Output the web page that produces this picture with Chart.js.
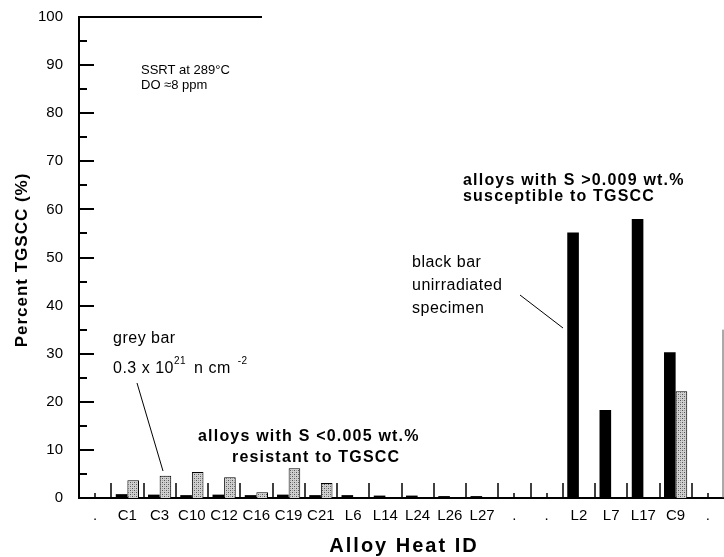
<!DOCTYPE html>
<html>
<head>
<meta charset="utf-8">
<script src="https://cdn.jsdelivr.net/npm/chart.js@4"></script>
<style>
  html, body { margin: 0; padding: 0; background: #fff; }
  #wrap { width: 724px; height: 557px; }
</style>
</head>
<body>
<div id="wrap"><canvas id="myChart" width="724" height="557"></canvas></div>
<script>
// alloy heats along the x axis ('.' = empty slot)
const categories = ['.', 'C1', 'C3', 'C10', 'C12', 'C16', 'C19', 'C21', 'L6', 'L14', 'L24', 'L26', 'L27',
  '.', '.', 'L2', 'L7', 'L17', 'C9', '.'];
// percent TGSCC, unirradiated specimens (black bars)
const unirradiated = [null, 0.8, 0.7, 0.6, 0.7, 0.6, 0.7, 0.6, 0.6, 0.5, 0.5, 0.4, 0.4,
  null, null, 55.2, 18.3, 58.0, 30.3, null];
// percent TGSCC, irradiated to 0.3 x 10^21 n/cm2 (grey bars)
const irradiated = [null, 3.7, 4.6, 5.4, 4.3, 1.2, 6.2, 3.1, null, null, null, null, null,
  null, null, null, null, null, 22.2, null];
const yTicks = [0, 10, 20, 30, 40, 50, 60, 70, 80, 90, 100];

const FONT = '"Liberation Sans", Arial, Helvetica, sans-serif';

// stippled grey fill
function stipple() {
  const c = document.createElement('canvas');
  c.width = 4; c.height = 4;
  const g = c.getContext('2d');
  g.fillStyle = '#d0d0d0';
  g.fillRect(0, 0, 4, 4);
  g.fillStyle = '#555';
  g.fillRect(0, 0, 1, 1);
  g.fillRect(2, 2, 1, 1);
  g.fillStyle = '#999';
  g.fillRect(2, 0, 1, 1);
  g.fillRect(0, 2, 1, 1);
  return g.createPattern(c, 'repeat');
}

function line(ctx, x1, y1, x2, y2) {
  ctx.beginPath();
  ctx.moveTo(x1, y1);
  ctx.lineTo(x2, y2);
  ctx.stroke();
}

// text run with superscripts: parts are [text, isSup, gapAfter]
function supText(ctx, parts, x, y, size) {
  let px = x;
  parts.forEach(([t, sup, gap]) => {
    ctx.font = (sup ? Math.round(size * 0.6) : size) + 'px ' + FONT;
    ctx.fillText(t, px, sup ? y - size * 0.55 : y);
    px += ctx.measureText(t).width + (gap || 0);
  });
}

// inward ticks, frame bits, titles and notes
const overlay = {
  id: 'overlay',
  afterDraw(chart) {
    const { ctx, chartArea: a, scales: { x, y } } = chart;
    ctx.save();
    ctx.strokeStyle = '#000';
    ctx.fillStyle = '#000';

    // y ticks pointing into the plot
    ctx.lineWidth = 2;
    for (let v = 0; v <= 100; v += 5) {
      const py = Math.round(y.getPixelForValue(v));
      line(ctx, a.left, py, a.left + (v % 10 === 0 ? 15 : 8), py);
    }

    // x ticks between heats, short ones on empty slots
    const half = (x.getPixelForValue(1) - x.getPixelForValue(0)) / 2;
    ctx.lineWidth = 1.5;
    for (let i = 1; i < categories.length; i++) {
      const px = Math.round(x.getPixelForValue(i) - half);
      line(ctx, px, a.bottom, px, a.bottom - 15);
    }
    categories.forEach((c, i) => {
      if (c === '.') {
        const px = Math.round(x.getPixelForValue(i));
        line(ctx, px, a.bottom, px, a.bottom - 5);
      }
    });

    // remains of the frame
    ctx.lineWidth = 2;
    line(ctx, a.left, a.top, 262, a.top);
    ctx.lineWidth = 1;
    ctx.strokeStyle = '#555';
    line(ctx, a.right - 1, y.getPixelForValue(35), a.right - 1, a.bottom);
    ctx.strokeStyle = '#000';

    // axis titles
    ctx.textAlign = 'center';
    ctx.textBaseline = 'middle';
    ctx.letterSpacing = '2px';
    ctx.font = 'bold 20px ' + FONT;
    ctx.fillText('Alloy Heat ID', 404, 546);
    ctx.save();
    ctx.translate(22, 260);
    ctx.rotate(-Math.PI / 2);
    ctx.letterSpacing = '1px';
    ctx.font = 'bold 17px ' + FONT;
    ctx.fillText('Percent TGSCC (%)', 0, 0);
    ctx.restore();

    // test conditions
    ctx.textAlign = 'left';
    ctx.textBaseline = 'alphabetic';
    ctx.letterSpacing = '0px';
    ctx.font = '13px ' + FONT;
    ctx.fillText('SSRT at 289°C', 141, 74);
    ctx.fillText('DO ≈8 ppm', 141, 89);

    // grey bar note
    ctx.letterSpacing = '0.5px';
    ctx.font = '16px ' + FONT;
    ctx.fillText('grey bar', 113, 343);
    supText(ctx, [['0.3 x 10', false, 0], ['21', true, 8], ['n cm', false, 7], ['-2', true, 0]], 113, 373, 16);
    ctx.lineWidth = 1;
    line(ctx, 137, 383, 163, 471);

    // black bar note
    ctx.font = '16px ' + FONT;
    ctx.fillText('black bar', 412, 267);
    ctx.fillText('unirradiated', 412, 290);
    ctx.fillText('specimen', 412, 313);
    line(ctx, 520, 295, 563, 328);

    // group labels
    ctx.letterSpacing = '1.2px';
    ctx.font = 'bold 16px ' + FONT;
    ctx.fillText('alloys with S >0.009 wt.%', 463, 185);
    ctx.fillText('susceptible to TGSCC', 463, 201);
    ctx.fillText('alloys with S <0.005 wt.%', 198, 441);
    ctx.fillText('resistant to TGSCC', 232, 462);

    ctx.restore();
  }
};

const ctx = document.getElementById('myChart').getContext('2d');
const chart = new Chart(ctx, {
  type: 'bar',
  data: {
    labels: categories,
    datasets: [{
      label: 'unirradiated',
      data: unirradiated,
      backgroundColor: '#000',
      borderWidth: 0,
      categoryPercentage: 0.72,
      barPercentage: 1.0,
    }, {
      label: '0.3 x 10^21 n/cm2',
      data: irradiated,
      backgroundColor: stipple(),
      borderColor: '#000',
      borderWidth: 1,
      categoryPercentage: 0.72,
      barPercentage: 1.0,
    }]
  },
  options: {
    responsive: false,
    animation: false,
    events: [],
    layout: { padding: { top: 12, right: 0, left: 0, bottom: 0 } },
    plugins: {
      legend: { display: false },
      tooltip: { enabled: false },
    },
    scales: {
      x: {
        grid: { display: false },
        border: { color: '#000', width: 2 },
        ticks: {
          color: '#000',
          font: { family: FONT, size: 15 },
          padding: 1,
          maxRotation: 0,
          autoSkip: false,
        },
        afterFit(scale) { scale.height = 59; },
      },
      y: {
        min: 0,
        max: 100,
        afterBuildTicks(scale) { scale.ticks = yTicks.map(v => ({ value: v })); },
        grid: { display: false },
        border: { color: '#000', width: 2 },
        ticks: {
          color: '#000',
          font: { family: FONT, size: 15 },
          padding: 8,
        },
        afterFit(scale) { scale.width = 79; },
      }
    }
  },
  plugins: [overlay],
});
</script>
</body>
</html>
